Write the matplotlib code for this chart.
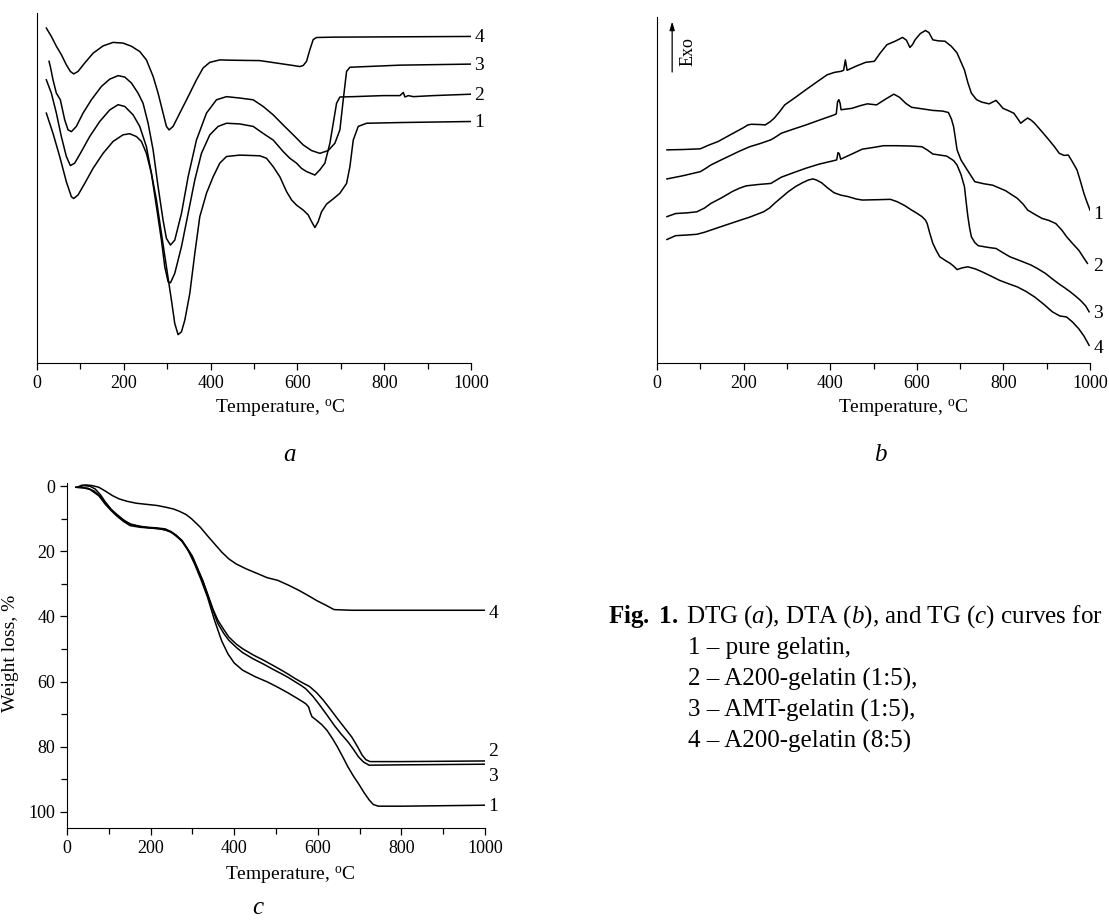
import numpy as np
import matplotlib
matplotlib.use('Agg')
import matplotlib.pyplot as plt
from matplotlib.ticker import MultipleLocator

plt.rcParams['font.family'] = ['Liberation Serif', 'DejaVu Serif']
plt.rcParams['mathtext.fontset'] = 'custom'
plt.rcParams['mathtext.rm'] = 'Liberation Serif'
plt.rcParams['mathtext.it'] = 'Liberation Serif:italic'
plt.rcParams['mathtext.bf'] = 'Liberation Serif:bold'

# ---- (a) DTG, arbitrary units ----
a1_t = [21.5, 36.9, 52.3, 67.6, 79.2, 84.6, 94.5, 109.9, 129.1, 152.2, 175.3, 198.3, 213.7, 229.1, 240.6, 252.1, 263.6,
        275.2, 286.7, 298.2, 309.8, 317.4, 325.1, 332.8, 340.5, 352.0, 363.6, 375.1, 390.5, 405.8, 421.2, 436.6, 467.3,
        513.5, 528.8, 544.2, 559.6, 574.9, 586.5, 598.0, 613.4, 624.9, 632.6, 640.3, 648.0, 655.6, 667.2, 682.6, 697.9,
        713.3, 721.0, 728.7, 740.2, 759.4, 836.3, 1000]
a1_y = [71.4, 65.6, 59.0, 51.8, 47.5, 47.0, 48.0, 51.3, 55.6, 59.9, 63.3, 65.2, 65.5, 64.7, 63.3, 59.9, 54.2,
        46.6, 37.0, 27.5, 17.9, 11.3, 8.1, 8.9, 12.2, 19.8, 31.3, 41.8, 48.5, 53.2, 57.1, 59.0, 59.4,
        59.2, 58.5, 56.1, 53.2, 49.0, 46.6, 45.1, 43.7, 42.3, 40.4, 38.7, 40.4, 43.2, 45.4, 46.9, 48.5,
        51.3, 56.1, 63.7, 67.6, 68.5, 68.7, 69.0]
a2_t = [21.5, 33.1, 44.6, 56.1, 67.6, 76.9, 86.9, 102.2, 121.4, 144.5, 167.6, 186.8, 202.2, 221.4, 236.7, 252.1, 263.6,
        275.2, 286.7, 294.4, 302.1, 307.5, 317.4, 332.8, 348.2, 363.6, 378.9, 398.2, 417.4, 436.6, 467.3, 498.1, 521.1,
        544.2, 567.3, 582.6, 598.0, 609.5, 621.1, 640.3, 651.8, 663.3, 674.9, 682.6, 690.2, 697.9, 728.7, 797.8, 836.3,
        844.0, 847.8, 855.5, 867.0, 913.1, 1000]
a2_y = [80.9, 77.1, 71.4, 64.7, 59.0, 56.4, 57.1, 60.4, 64.7, 69.0, 72.3, 73.8, 73.3, 70.9, 67.6, 61.8, 54.2,
        44.7, 35.1, 27.5, 23.2, 22.9, 25.6, 33.2, 42.7, 52.3, 59.9, 65.2, 67.6, 68.5, 68.3, 67.6, 65.6,
        63.7, 60.4, 58.5, 57.1, 55.6, 54.7, 53.7, 55.2, 57.1, 62.8, 68.5, 74.2, 76.0, 76.1, 76.4, 76.4,
        77.3, 76.0, 76.4, 76.1, 76.4, 76.8]
a3_t = [27.7, 30.7, 36.9, 44.6, 53.8, 63.8, 71.5, 79.2, 90.7, 106.1, 125.3, 148.3, 167.6, 186.8, 202.2, 217.5, 232.9,
        244.4, 256.0, 267.5, 279.0, 290.5, 298.2, 307.5, 317.4, 332.8, 348.2, 367.4, 390.5, 413.5, 436.6, 467.3, 498.1,
        521.1, 544.2, 567.3, 590.3, 613.4, 632.6, 651.8, 671.0, 686.4, 697.9, 705.6, 713.3, 721.0, 759.4, 836.3, 1000]
a3_y = [86.2, 84.7, 80.9, 77.1, 75.2, 69.5, 66.6, 66.1, 67.6, 71.4, 75.2, 79.0, 81.1, 82.1, 81.7, 80.0, 77.1,
        74.2, 68.5, 60.9, 50.4, 40.8, 35.6, 33.7, 35.1, 42.7, 53.2, 63.7, 71.4, 75.2, 76.1, 75.7, 75.2,
        73.3, 70.9, 68.0, 65.2, 62.3, 60.7, 59.9, 60.7, 62.8, 66.6, 75.2, 83.3, 84.5, 84.7, 85.1, 85.4]
a4_t = [21.5, 33.1, 44.6, 56.1, 67.6, 76.9, 84.6, 94.5, 109.9, 129.1, 152.2, 175.3, 198.3, 217.5, 236.7, 252.1, 267.5,
        279.0, 290.5, 298.2, 304.4, 313.6, 329.0, 348.2, 367.4, 382.8, 398.2, 421.2, 452.0, 513.5, 551.9, 590.3, 605.7,
        613.4, 621.1, 628.7, 636.4, 644.1, 682.6, 1000]
a4_y = [95.7, 93.3, 90.5, 88.1, 85.2, 83.3, 82.6, 83.3, 85.7, 88.5, 90.6, 91.6, 91.4, 90.5, 89.0, 86.6, 81.9,
        77.1, 71.4, 67.6, 66.6, 67.6, 71.4, 76.1, 80.9, 84.3, 85.9, 86.6, 86.5, 86.4, 85.7, 85.0, 84.7,
        85.0, 86.2, 89.5, 92.4, 93.0, 93.1, 93.3]

# ---- (b) DTA, arbitrary units ----
b1_t = [23, 60, 100, 120, 141, 170, 198, 210, 218, 240, 250, 262, 271, 283, 295, 320, 344, 370, 393, 410, 425, 431, 435,
        439, 460, 482, 502, 515, 531, 550, 567, 576, 584, 590, 596, 608, 620, 628, 637, 650, 665, 680, 693, 702, 710,
        718, 726, 738, 750, 767, 775, 783, 791, 799, 812, 824, 832, 840, 848, 856, 864, 872, 888, 905, 918, 929, 940,
        950, 960, 970, 978, 986, 993, 1000]
b1_y = [61.6, 61.7, 61.9, 63.0, 64.0, 66.0, 67.9, 68.8, 69.0, 68.9, 68.8, 69.8, 70.8, 72.6, 74.6, 76.8, 79.0, 81.3, 83.3,
        84.0, 84.3, 84.6, 87.6, 84.6, 85.8, 86.9, 87.2, 89.5, 92.0, 93.0, 94.1, 93.3, 91.2, 92.0, 93.4, 95.2, 96.1,
        95.5, 93.4, 93.1, 93.0, 91.5, 89.6, 87.0, 84.7, 81.0, 78.0, 76.1, 75.4, 74.9, 75.4, 75.9, 74.8, 73.6, 72.9,
        72.2, 70.8, 69.3, 70.1, 70.8, 70.2, 69.3, 67.0, 64.5, 62.5, 60.6, 60.0, 60.1, 58.0, 55.8, 52.5, 49.0, 46.5, 44.2]
b2_t = [23, 59, 100, 112, 124, 145, 165, 190, 214, 240, 263, 275, 287, 315, 344, 375, 409, 414, 417, 420, 423, 425, 450,
        470, 486, 507, 527, 547, 560, 575, 588, 610, 637, 660, 673, 680, 685, 689, 693, 702, 718, 734, 755, 775, 805,
        832, 845, 856, 872, 889, 905, 921, 935, 946, 960, 974, 985, 994]
b2_y = [53.2, 54.1, 55.3, 56.2, 57.2, 58.5, 59.7, 61.2, 62.5, 63.5, 64.5, 65.4, 66.4, 67.6, 68.8, 70.2, 71.7, 72.0, 75.5,
        76.1, 75.0, 73.2, 73.6, 74.4, 74.9, 74.6, 76.2, 77.7, 76.8, 75.0, 73.9, 73.5, 73.0, 72.8, 72.4, 70.5, 68.3,
        65.0, 61.6, 58.7, 55.5, 52.4, 51.8, 51.4, 49.8, 47.6, 46.0, 44.2, 43.0, 41.8, 41.2, 40.3, 38.4, 36.5, 34.5,
        32.6, 30.5, 28.8]
b3_t = [23, 43, 70, 92, 110, 124, 150, 173, 190, 206, 235, 263, 275, 287, 315, 344, 375, 409, 415, 418, 421, 424, 450,
        474, 500, 523, 555, 588, 612, 625, 637, 669, 685, 693, 702, 710, 714, 718, 722, 726, 734, 742, 765, 783, 800,
        815, 840, 864, 880, 897, 913, 929, 942, 954, 966, 978, 990, 998]
b3_y = [42.3, 43.2, 43.4, 43.7, 44.8, 46.1, 47.8, 49.5, 50.5, 51.2, 51.6, 51.9, 52.8, 53.7, 55.0, 56.3, 57.5, 58.5, 58.7,
        60.8, 60.5, 58.9, 60.4, 61.8, 62.3, 62.8, 62.8, 62.7, 62.5, 61.5, 60.4, 59.8, 58.5, 57.2, 54.5, 51.0, 46.5,
        42.3, 39.0, 36.5, 34.8, 33.9, 33.4, 33.1, 31.8, 30.7, 29.5, 28.3, 27.2, 25.9, 24.3, 22.8, 21.7, 20.6, 19.4,
        18.1, 16.5, 14.8]
b4_t = [23, 43, 70, 92, 110, 124, 150, 181, 215, 246, 260, 271, 287, 303, 320, 336, 350, 360, 368, 380, 395, 409, 425,
        441, 460, 474, 510, 539, 555, 572, 588, 600, 612, 620, 624, 630, 637, 645, 653, 665, 677, 685, 693, 705, 718,
        735, 750, 770, 791, 812, 832, 852, 872, 893, 913, 930, 946, 960, 974, 986, 998]
b4_y = [35.7, 36.8, 37.0, 37.2, 37.8, 38.4, 39.5, 40.8, 42.2, 43.7, 44.8, 46.1, 47.8, 49.5, 51.0, 52.1, 52.9, 53.2, 52.9,
        52.1, 50.5, 49.2, 48.5, 48.1, 47.4, 47.1, 47.2, 47.3, 46.6, 45.5, 44.2, 43.3, 42.3, 41.3, 40.3, 37.5, 34.6,
        32.5, 30.7, 29.7, 28.8, 28.0, 27.0, 27.5, 27.8, 27.2, 26.4, 25.2, 23.9, 22.9, 22.0, 20.7, 19.1, 17.0, 14.8,
        13.6, 13.3, 11.8, 9.9, 7.8, 5.1]

# ---- (c) TG, weight loss % ----
c1_t = [21, 35, 50, 65, 80, 95, 110, 125, 140, 155, 175, 200, 225, 245, 261, 275, 290, 305, 320, 336, 353, 370, 385,
        400, 420, 450, 479, 505, 529, 555, 571, 578, 582, 586, 597, 610, 622, 635, 647, 660, 672, 685, 697, 710, 723,
        733, 745, 800, 1000]
c1_y = [0.3, 0.4, 0.6, 1.5, 3.2, 5.5, 7.8, 9.6, 10.9, 11.8, 12.4, 12.8, 13.1, 13.8, 15.0, 16.8, 19.8, 23.8, 28.5, 34.0,
        41.2, 47.5, 51.5, 54.3, 56.5, 58.5, 60.1, 61.8, 63.5, 65.5, 66.8, 67.8, 69.5, 70.8, 71.9, 73.3, 75.0, 77.5,
        80.1, 83.2, 86.2, 89.0, 91.3, 94.0, 96.4, 97.8, 98.3, 98.3, 98.0]
c2_t = [25, 40, 55, 67, 80, 92, 105, 118, 135, 151, 175, 193, 215, 235, 250, 261, 275, 286, 300, 311, 325, 336, 350,
        361, 375, 387, 405, 420, 445, 471, 495, 513, 530, 546, 565, 580, 597, 613, 630, 647, 664, 681, 695, 706, 715,
        725, 800, 1000]
c2_y = [0.3, -0.2, 0.0, 0.8, 2.6, 4.9, 7.0, 8.5, 10.3, 11.6, 12.3, 12.6, 12.8, 13.1, 14.0, 15.1, 16.6, 18.7, 21.5, 24.8,
        29.0, 33.0, 38.0, 41.2, 44.0, 46.3, 48.5, 49.9, 51.8, 53.5, 55.2, 56.5, 57.8, 59.1, 60.5, 61.5, 63.4, 65.7,
        68.5, 71.4, 74.2, 77.0, 80.0, 82.6, 84.0, 84.6, 84.6, 84.4]
c3_t = [21, 40, 55, 76, 92, 105, 118, 135, 151, 175, 193, 215, 235, 250, 261, 275, 286, 300, 311, 325, 336, 350, 361,
        375, 387, 405, 420, 445, 471, 495, 513, 530, 546, 560, 571, 588, 605, 622, 639, 655, 672, 685, 697, 710, 723,
        800, 1000]
c3_y = [0.3, 0.5, 1.0, 2.9, 5.6, 7.4, 9.0, 10.8, 12.1, 12.6, 12.8, 13.0, 13.4, 14.2, 15.3, 16.9, 18.9, 21.8, 25.1, 29.2,
        33.2, 38.5, 42.2, 45.2, 47.3, 49.5, 51.1, 53.0, 54.7, 56.4, 57.6, 58.8, 60.1, 61.2, 62.2, 64.5, 67.3, 70.3,
        73.4, 76.0, 78.5, 80.8, 83.1, 84.8, 85.7, 85.6, 85.4]
c4_t = [25, 35, 46, 60, 76, 92, 109, 125, 143, 165, 193, 215, 235, 255, 269, 285, 298, 319, 336, 353, 370, 387, 405,
        429, 455, 479, 504, 530, 555, 580, 597, 620, 639, 660, 681, 1000]
c4_y = [0.3, -0.3, -0.4, -0.2, 0.3, 1.5, 2.9, 3.9, 4.6, 5.2, 5.6, 5.9, 6.4, 7.0, 7.7, 8.7, 10.0, 12.6, 15.2, 17.7,
        20.2, 22.3, 23.9, 25.4, 26.8, 28.1, 28.9, 30.4, 32.0, 33.8, 35.1, 36.6, 37.9, 38.0, 38.1, 38.1]

W, H = 1109, 921
fig = plt.figure(figsize=(W / 100, H / 100), dpi=100)


def make_axes(x0, y0, x1, y1):
    # axes box given in pixels from the top-left corner
    ax = fig.add_axes([x0 / W, 1 - y1 / H, (x1 - x0) / W, (y1 - y0) / H])
    ax.spines['top'].set_visible(False)
    ax.spines['right'].set_visible(False)
    ax.set_xlim(0, 1000)
    ax.xaxis.set_major_locator(MultipleLocator(200))
    ax.xaxis.set_minor_locator(MultipleLocator(100))
    ax.tick_params(which='both', direction='out', labelsize=13, width=0.9)
    ax.tick_params(which='major', length=5)
    ax.tick_params(which='minor', length=4)
    return ax


lw = 1.1
deg_label = r'Temperature, $^{\mathrm{o}}$C'

# (a)
ax_a = make_axes(37, 13, 471, 363)
ax_a.set_ylim(0, 100)
ax_a.set_yticks([])
for t, y in [(a1_t, a1_y), (a2_t, a2_y), (a3_t, a3_y), (a4_t, a4_y)]:
    ax_a.plot(t, y, color='black', lw=lw)
for lab, y in [('1', 68.8), ('2', 76.3), ('3', 85.1), ('4', 92.9)]:
    ax_a.text(1008, y, lab, fontsize=14, va='center', ha='left')
fig.text(280 / W, 1 - 408 / H, deg_label, fontsize=14, ha='center', va='center')

# (b)
ax_b = make_axes(657, 17, 1090, 363)
ax_b.set_ylim(0, 100)
ax_b.set_yticks([])
for t, y in [(b1_t, b1_y), (b2_t, b2_y), (b3_t, b3_y), (b4_t, b4_y)]:
    ax_b.plot(t, y, color='black', lw=lw)
for lab, y in [('1', 43.0), ('2', 27.8), ('3', 14.3), ('4', 4.3)]:
    ax_b.text(1008, y, lab, fontsize=14, va='center', ha='left')
ax_b.annotate('', xy=(35, 99.5), xytext=(35, 83.3),
              arrowprops=dict(arrowstyle='-|>,head_length=0.5,head_width=0.15', color='black', lw=0.9))
ax_b.text(72, 90, 'Exo', rotation=90, fontsize=13, ha='center', va='center')
fig.text(903 / W, 1 - 408 / H, deg_label, fontsize=14, ha='center', va='center')

# (c)
ax_c = make_axes(67, 483, 485, 828)
ax_c.set_ylim(105, -1)
ax_c.yaxis.set_major_locator(MultipleLocator(20))
ax_c.yaxis.set_minor_locator(MultipleLocator(10))
for t, y in [(c1_t, c1_y), (c2_t, c2_y), (c3_t, c3_y), (c4_t, c4_y)]:
    ax_c.plot(t, y, color='black', lw=lw)
for lab, y in [('1', 98.5), ('2', 81.6), ('3', 89.3), ('4', 39.2)]:
    ax_c.text(1008, y, lab, fontsize=14, va='center', ha='left')
ax_c.set_ylabel('Weight loss, %', fontsize=14)
ax_c.yaxis.set_label_coords((19 - 67) / 418, (828 - 653) / 345)
fig.text(290 / W, 1 - 875 / H, deg_label, fontsize=14, ha='center', va='center')

# panel letters
fig.text(290 / W, 1 - 455 / H, 'a', fontsize=18, style='italic', ha='center', va='center')
fig.text(880 / W, 1 - 455 / H, 'b', fontsize=18, style='italic', ha='center', va='center')
fig.text(258 / W, 1 - 908 / H, 'c', fontsize=18, style='italic', ha='center', va='center')

# caption
fig.text(608 / W, 1 - 617 / H, r'$\mathbf{Fig.\ 1.}$', fontsize=18, ha='left', va='center')
fig.text(686 / W, 1 - 617 / H,
         r'DTG ($\mathit{a}$), DTA ($\mathit{b}$), and TG ($\mathit{c}$) curves for',
         fontsize=18, ha='left', va='center')
caption_lines = ['1 – pure gelatin,', '2 – A200-gelatin (1:5),', '3 – AMT-gelatin (1:5),', '4 – A200-gelatin (8:5)']
for i, line in enumerate(caption_lines):
    fig.text(688 / W, 1 - (648 + 31 * i) / H, line, fontsize=18, ha='left', va='center')

fig.savefig('out.png', dpi=100)
